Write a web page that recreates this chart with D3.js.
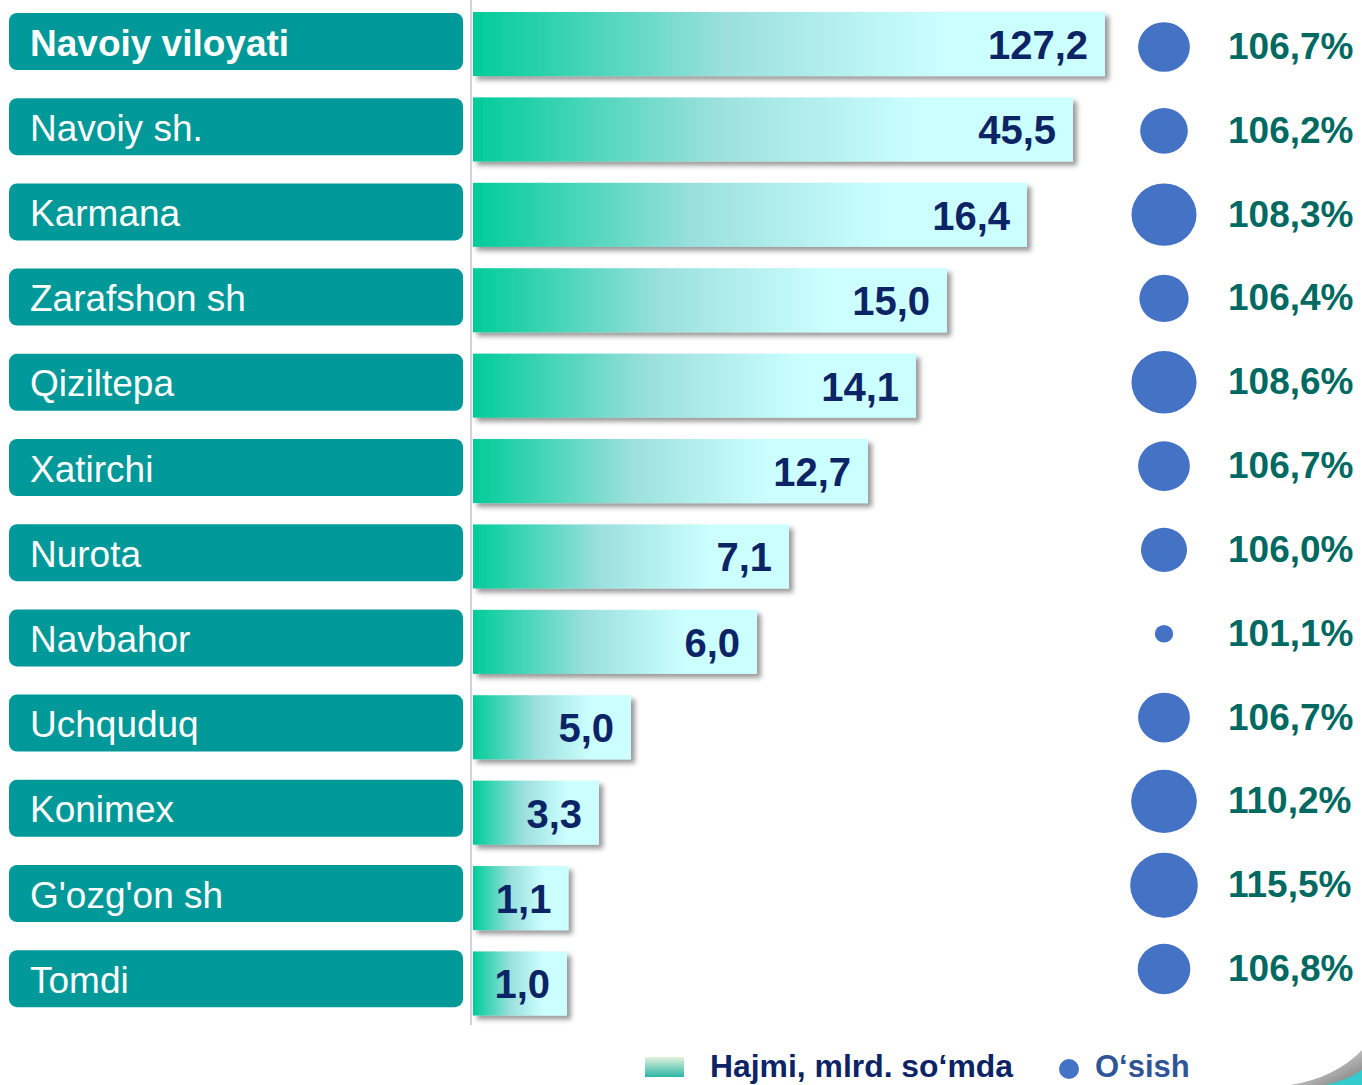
<!DOCTYPE html>
<html>
<head>
<meta charset="utf-8">
<title>Navoiy viloyati</title>
<script src="https://d3js.org/d3.v7.min.js"></script>
<style>
    html, body { margin: 0; padding: 0; background: #fff; }
    svg { display: block; font-family: "Liberation Sans", Arial, sans-serif; }
</style>
</head>
<body>
<div id="chart"></div>
<script>
// data
const regions = ["Navoiy viloyati", "Navoiy sh.", "Karmana", "Zarafshon sh", "Qiziltepa", "Xatirchi",
                 "Nurota", "Navbahor", "Uchquduq", "Konimex", "G'ozg'on sh", "Tomdi"];
const volume = [127.2, 45.5, 16.4, 15.0, 14.1, 12.7, 7.1, 6.0, 5.0, 3.3, 1.1, 1.0];
const growth = [106.7, 106.2, 108.3, 106.4, 108.6, 106.7, 106.0, 101.1, 106.7, 110.2, 115.5, 106.8];
const legendLabels = ["Hajmi, mlrd. so\u2018mda", "O\u2018sish"];

const W = 1362, H = 1085;
const fmt = v => d3.format(".1f")(v).replace(".", ",");

const svg = d3.select("#chart").append("svg")
    .attr("width", W)
    .attr("height", H);

const defs = svg.append("defs");

const barGrad = defs.append("linearGradient").attr("id", "barGrad");
barGrad.append("stop").attr("offset", "0%").attr("stop-color", "#00cc99");
barGrad.append("stop").attr("offset", "40%").attr("stop-color", "#9be0dd");
barGrad.append("stop").attr("offset", "75%").attr("stop-color", "#ccffff");
barGrad.append("stop").attr("offset", "100%").attr("stop-color", "#ccffff");

const legGrad = defs.append("linearGradient").attr("id", "legGrad")
    .attr("x1", 0).attr("y1", 0).attr("x2", 0).attr("y2", 1);
legGrad.append("stop").attr("offset", "0%").attr("stop-color", "#e4f2dc");
legGrad.append("stop").attr("offset", "100%").attr("stop-color", "#2db6a8");

const swoosh = defs.append("linearGradient").attr("id", "swoosh")
    .attr("x1", 0).attr("y1", 0).attr("x2", 1).attr("y2", 1);
swoosh.append("stop").attr("offset", "0%").attr("stop-color", "#ffffff");
swoosh.append("stop").attr("offset", "100%").attr("stop-color", "#777777");

const shadow = defs.append("filter").attr("id", "shadow")
    .attr("x", "-5%").attr("y", "-20%").attr("width", "115%").attr("height", "150%");
shadow.append("feDropShadow")
    .attr("dx", 4).attr("dy", 4)
    .attr("stdDeviation", 2.5)
    .attr("flood-color", "#000")
    .attr("flood-opacity", 0.4);

// scales
const idx = d3.range(regions.length);

const yBar = d3.scaleBand().domain(idx).range([12, 1015.5]).paddingInner(0.25).paddingOuter(0);
const yLabel = d3.scalePoint().domain(idx).range([41.5, 978.7]);
const yRight = d3.scalePoint().domain(idx).range([46, 968]);

// the original bars follow a broken (piecewise) axis, not a linear one
const x0 = 473;
const xBar = d3.scaleLinear()
    .domain([1.0, 3.3, 5.0, 6.0, 7.1, 12.7, 14.1, 15.0, 16.4, 45.5, 127.2])
    .range([94, 126, 158, 284, 316, 395, 443, 474, 554, 600, 632]);

const rScale = d3.scaleLinear()
    .domain([101.1, 106.0, 108.3, 115.5])
    .range([9.2, 23, 32.5, 33.8]);

// divider line
svg.append("line")
    .attr("x1", 471).attr("x2", 471)
    .attr("y1", 0).attr("y2", 1025)
    .attr("stroke", "#d4d4d4")
    .attr("stroke-width", 2);

// region labels
const lab = svg.selectAll(".lab").data(idx).enter().append("g").attr("class", "lab");
lab.append("rect")
    .attr("x", 9)
    .attr("y", i => yLabel(i) - 28.5)
    .attr("width", 454)
    .attr("height", 57)
    .attr("rx", 8)
    .attr("fill", "#009999");
lab.append("text")
    .attr("x", 30)
    .attr("y", i => yLabel(i) + 14)
    .attr("fill", "#fff")
    .attr("font-size", 37)
    .attr("font-weight", i => i === 0 ? "bold" : "normal")
    .text(i => regions[i]);

// bars
svg.selectAll(".bar").data(idx).enter().append("rect")
    .attr("class", "bar")
    .attr("x", x0)
    .attr("y", i => yBar(i))
    .attr("width", i => xBar(volume[i]))
    .attr("height", yBar.bandwidth())
    .attr("fill", "url(#barGrad)")
    .attr("filter", "url(#shadow)");

svg.selectAll(".val").data(idx).enter().append("text")
    .attr("class", "val")
    .attr("x", i => x0 + xBar(volume[i]) - 17)
    .attr("y", i => yBar(i) + yBar.bandwidth() / 2 + 15)
    .attr("text-anchor", "end")
    .attr("font-size", 40)
    .attr("font-weight", "bold")
    .attr("fill", "#0c2466")
    .text(i => fmt(volume[i]));

// growth circles
svg.selectAll(".dot").data(idx).enter().append("ellipse")
    .attr("class", "dot")
    .attr("cx", 1164)
    .attr("cy", i => yRight(i) + 1)
    .attr("rx", i => rScale(growth[i]))
    .attr("ry", i => rScale(growth[i]) * 0.96)
    .attr("fill", "#4472c4");

svg.selectAll(".pct").data(idx).enter().append("text")
    .attr("class", "pct")
    .attr("x", 1228)
    .attr("y", i => yRight(i) + 13)
    .attr("font-size", 37)
    .attr("font-weight", "bold")
    .attr("fill", "#006a62")
    .text(i => fmt(growth[i]) + "%");

// legend
svg.append("rect")
    .attr("x", 645).attr("y", 1057)
    .attr("width", 39).attr("height", 20)
    .attr("fill", "url(#legGrad)");
svg.append("text")
    .attr("x", 710).attr("y", 1077)
    .attr("font-size", 31)
    .attr("font-weight", "bold")
    .attr("fill", "#0c2466")
    .attr("textLength", 303)
    .attr("lengthAdjust", "spacingAndGlyphs")
    .text(legendLabels[0]);
svg.append("circle")
    .attr("cx", 1069).attr("cy", 1069).attr("r", 10)
    .attr("fill", "#4472c4");
svg.append("text")
    .attr("x", 1095).attr("y", 1077)
    .attr("font-size", 31)
    .attr("font-weight", "bold")
    .attr("fill", "#2f5597")
    .text(legendLabels[1]);

// corner decoration
svg.append("path")
    .attr("d", "M1290,1085 Q1335,1078 1362,1050 L1362,1085 Z")
    .attr("fill", "url(#swoosh)");
svg.append("path")
    .attr("d", "M1325,1085 Q1348,1080 1362,1070 L1362,1085 Z")
    .attr("fill", "#33cccc");
</script>
</body>
</html>
